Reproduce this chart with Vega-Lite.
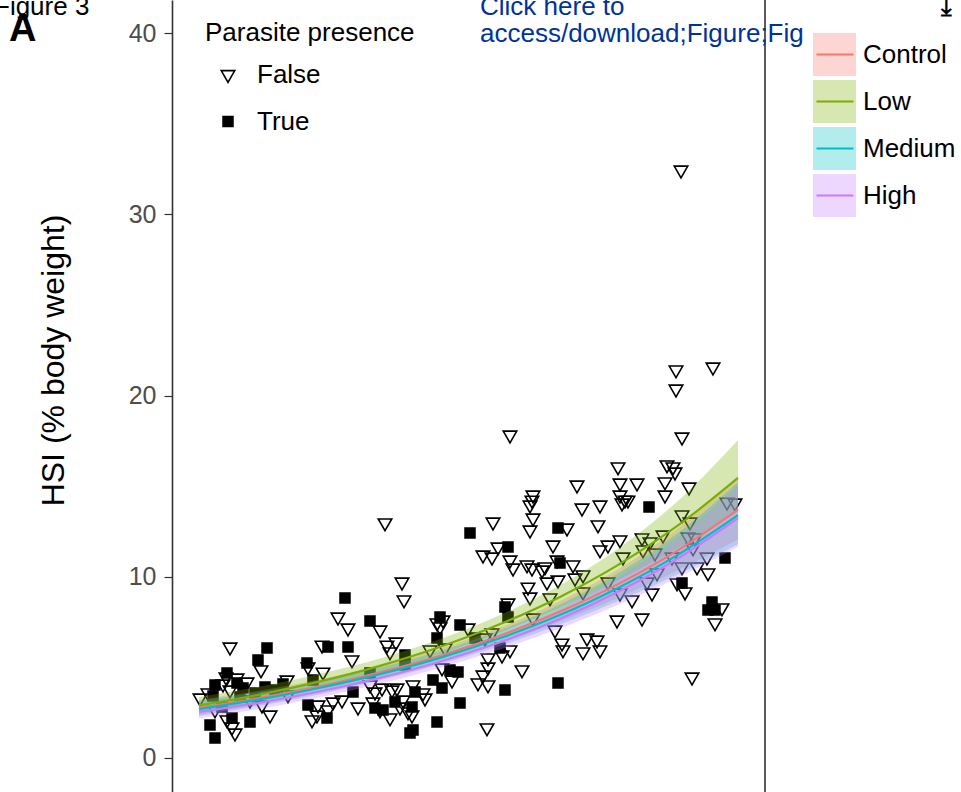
{
  "$schema": "https://vega.github.io/schema/vega-lite/v6.json",
  "width": 593,
  "height": 792,
  "autosize": {"type": "none"},
  "padding": {"left": 172, "right": 196, "top": 0, "bottom": 0},
  "background": "white",
  "config": {"view": {"stroke": null}, "font": "Liberation Sans"},
  "datasets": {
    "pts": [
      {"x":58,"hsi":6.12,"parasite":"False"},{"x":89,"hsi":4.86,"parasite":"False"},{"x":115,"hsi":4.30,"parasite":"False"},{"x":54,"hsi":4.47,"parasite":"False"},{"x":65,"hsi":4.41,"parasite":"False"},{"x":75,"hsi":4.19,"parasite":"False"},{"x":36,"hsi":3.59,"parasite":"False"},{"x":28,"hsi":3.31,"parasite":"False"},{"x":58,"hsi":3.75,"parasite":"False"},{"x":98,"hsi":2.37,"parasite":"False"},{"x":55,"hsi":2.10,"parasite":"False"},{"x":60,"hsi":1.71,"parasite":"False"},{"x":63,"hsi":1.38,"parasite":"False"},{"x":116,"hsi":3.48,"parasite":"False"},{"x":51,"hsi":4.08,"parasite":"False"},{"x":78,"hsi":3.20,"parasite":"False"},{"x":90,"hsi":2.92,"parasite":"False"},{"x":43,"hsi":2.65,"parasite":"False"},
      {"x":95,"hsi":6.07,"parasite":"True"},{"x":86,"hsi":5.41,"parasite":"True"},{"x":55,"hsi":4.69,"parasite":"True"},{"x":43,"hsi":4.03,"parasite":"True"},{"x":65,"hsi":4.14,"parasite":"True"},{"x":93,"hsi":3.92,"parasite":"True"},{"x":111,"hsi":4.08,"parasite":"True"},{"x":41,"hsi":3.42,"parasite":"True"},{"x":71,"hsi":3.86,"parasite":"True"},{"x":60,"hsi":2.21,"parasite":"True"},{"x":78,"hsi":1.99,"parasite":"True"},{"x":38,"hsi":1.82,"parasite":"True"},{"x":43,"hsi":1.10,"parasite":"True"},{"x":68,"hsi":3.37,"parasite":"True"},{"x":83,"hsi":3.59,"parasite":"True"},{"x":103,"hsi":3.75,"parasite":"True"},{"x":50,"hsi":2.81,"parasite":"True"},
      {"x":150,"hsi":6.23,"parasite":"False"},{"x":215,"hsi":6.23,"parasite":"False"},{"x":218,"hsi":5.85,"parasite":"False"},{"x":224,"hsi":6.40,"parasite":"False"},{"x":180,"hsi":5.41,"parasite":"False"},{"x":136,"hsi":5.02,"parasite":"False"},{"x":151,"hsi":4.74,"parasite":"False"},{"x":198,"hsi":4.03,"parasite":"False"},{"x":210,"hsi":3.86,"parasite":"False"},{"x":203,"hsi":3.64,"parasite":"False"},{"x":220,"hsi":3.75,"parasite":"False"},{"x":225,"hsi":3.86,"parasite":"False"},{"x":146,"hsi":2.92,"parasite":"False"},{"x":161,"hsi":3.09,"parasite":"False"},{"x":170,"hsi":3.20,"parasite":"False"},{"x":186,"hsi":2.81,"parasite":"False"},{"x":201,"hsi":3.09,"parasite":"False"},{"x":156,"hsi":2.65,"parasite":"False"},{"x":145,"hsi":2.37,"parasite":"False"},{"x":140,"hsi":2.10,"parasite":"False"},{"x":218,"hsi":2.21,"parasite":"False"},{"x":208,"hsi":2.65,"parasite":"False"},
      {"x":156,"hsi":6.12,"parasite":"True"},{"x":176,"hsi":6.12,"parasite":"True"},{"x":135,"hsi":5.24,"parasite":"True"},{"x":141,"hsi":4.30,"parasite":"True"},{"x":198,"hsi":4.69,"parasite":"True"},{"x":136,"hsi":2.92,"parasite":"True"},{"x":155,"hsi":2.21,"parasite":"True"},{"x":203,"hsi":2.76,"parasite":"True"},{"x":211,"hsi":2.65,"parasite":"True"},{"x":181,"hsi":3.64,"parasite":"True"},
      {"x":213,"hsi":12.97,"parasite":"False"},{"x":230,"hsi":9.71,"parasite":"False"},{"x":232,"hsi":8.72,"parasite":"False"},{"x":166,"hsi":7.78,"parasite":"False"},{"x":176,"hsi":7.17,"parasite":"False"},{"x":208,"hsi":7.06,"parasite":"False"},
      {"x":298,"hsi":12.41,"parasite":"True"},{"x":173,"hsi":8.83,"parasite":"True"},{"x":198,"hsi":7.56,"parasite":"True"},
      {"x":265,"hsi":7.45,"parasite":"False"},{"x":271,"hsi":7.61,"parasite":"False"},{"x":268,"hsi":7.23,"parasite":"False"},{"x":296,"hsi":7.17,"parasite":"False"},{"x":258,"hsi":5.96,"parasite":"False"},{"x":273,"hsi":6.07,"parasite":"False"},{"x":320,"hsi":6.90,"parasite":"False"},{"x":313,"hsi":6.62,"parasite":"False"},{"x":270,"hsi":4.97,"parasite":"False"},{"x":280,"hsi":4.30,"parasite":"False"},{"x":316,"hsi":5.52,"parasite":"False"},{"x":316,"hsi":5.02,"parasite":"False"},{"x":311,"hsi":4.58,"parasite":"False"},{"x":306,"hsi":4.14,"parasite":"False"},{"x":316,"hsi":4.03,"parasite":"False"},{"x":241,"hsi":4.03,"parasite":"False"},{"x":251,"hsi":3.59,"parasite":"False"},{"x":253,"hsi":3.31,"parasite":"False"},{"x":231,"hsi":3.20,"parasite":"False"},{"x":228,"hsi":2.81,"parasite":"False"},{"x":236,"hsi":2.54,"parasite":"False"},{"x":240,"hsi":2.37,"parasite":"False"},{"x":315,"hsi":1.66,"parasite":"False"},
      {"x":268,"hsi":7.78,"parasite":"True"},{"x":288,"hsi":7.34,"parasite":"True"},{"x":265,"hsi":6.62,"parasite":"True"},{"x":303,"hsi":6.62,"parasite":"True"},{"x":233,"hsi":5.68,"parasite":"True"},{"x":233,"hsi":5.13,"parasite":"True"},{"x":261,"hsi":4.30,"parasite":"True"},{"x":278,"hsi":4.86,"parasite":"True"},{"x":286,"hsi":4.74,"parasite":"True"},{"x":270,"hsi":3.86,"parasite":"True"},{"x":243,"hsi":3.64,"parasite":"True"},{"x":223,"hsi":3.09,"parasite":"True"},{"x":240,"hsi":2.81,"parasite":"True"},{"x":288,"hsi":3.03,"parasite":"True"},{"x":265,"hsi":1.99,"parasite":"True"},{"x":241,"hsi":1.54,"parasite":"True"},{"x":238,"hsi":1.38,"parasite":"True"},
      {"x":405,"hsi":15.06,"parasite":"False"},{"x":361,"hsi":14.51,"parasite":"False"},{"x":360,"hsi":14.23,"parasite":"False"},{"x":358,"hsi":13.96,"parasite":"False"},{"x":410,"hsi":13.79,"parasite":"False"},{"x":321,"hsi":13.02,"parasite":"False"},{"x":361,"hsi":13.24,"parasite":"False"},{"x":358,"hsi":12.58,"parasite":"False"},{"x":395,"hsi":12.69,"parasite":"False"},{"x":381,"hsi":11.75,"parasite":"False"},{"x":326,"hsi":11.64,"parasite":"False"},{"x":311,"hsi":11.20,"parasite":"False"},{"x":320,"hsi":11.09,"parasite":"False"},{"x":338,"hsi":10.92,"parasite":"False"},{"x":341,"hsi":10.48,"parasite":"False"},{"x":355,"hsi":10.65,"parasite":"False"},{"x":360,"hsi":10.48,"parasite":"False"},{"x":373,"hsi":10.54,"parasite":"False"},{"x":370,"hsi":10.37,"parasite":"False"},{"x":385,"hsi":10.92,"parasite":"False"},{"x":401,"hsi":10.65,"parasite":"False"},{"x":375,"hsi":9.71,"parasite":"False"},{"x":386,"hsi":9.82,"parasite":"False"},{"x":403,"hsi":9.93,"parasite":"False"},{"x":411,"hsi":10.10,"parasite":"False"},{"x":356,"hsi":9.43,"parasite":"False"},{"x":358,"hsi":8.88,"parasite":"False"},{"x":378,"hsi":8.83,"parasite":"False"},{"x":336,"hsi":8.55,"parasite":"False"},{"x":411,"hsi":9.16,"parasite":"False"},{"x":361,"hsi":7.72,"parasite":"False"},{"x":383,"hsi":7.06,"parasite":"False"},{"x":390,"hsi":6.34,"parasite":"False"},{"x":391,"hsi":5.96,"parasite":"False"},{"x":411,"hsi":5.85,"parasite":"False"},{"x":338,"hsi":5.96,"parasite":"False"},{"x":330,"hsi":5.68,"parasite":"False"},{"x":350,"hsi":4.86,"parasite":"False"},
      {"x":386,"hsi":12.69,"parasite":"True"},{"x":336,"hsi":11.64,"parasite":"True"},{"x":388,"hsi":10.76,"parasite":"True"},{"x":333,"hsi":8.33,"parasite":"True"},{"x":336,"hsi":7.78,"parasite":"True"},{"x":328,"hsi":6.07,"parasite":"True"},{"x":333,"hsi":3.75,"parasite":"True"},{"x":386,"hsi":4.14,"parasite":"True"},
      {"x":446,"hsi":16.06,"parasite":"False"},{"x":448,"hsi":15.17,"parasite":"False"},{"x":465,"hsi":15.17,"parasite":"False"},{"x":448,"hsi":14.51,"parasite":"False"},{"x":453,"hsi":14.23,"parasite":"False"},{"x":450,"hsi":14.07,"parasite":"False"},{"x":456,"hsi":14.23,"parasite":"False"},{"x":428,"hsi":13.96,"parasite":"False"},{"x":426,"hsi":12.86,"parasite":"False"},{"x":428,"hsi":11.48,"parasite":"False"},{"x":436,"hsi":11.75,"parasite":"False"},{"x":448,"hsi":12.03,"parasite":"False"},{"x":470,"hsi":12.14,"parasite":"False"},{"x":478,"hsi":11.92,"parasite":"False"},{"x":451,"hsi":11.09,"parasite":"False"},{"x":471,"hsi":11.48,"parasite":"False"},{"x":483,"hsi":11.31,"parasite":"False"},{"x":436,"hsi":9.71,"parasite":"False"},{"x":475,"hsi":9.71,"parasite":"False"},{"x":485,"hsi":10.21,"parasite":"False"},{"x":448,"hsi":9.10,"parasite":"False"},{"x":460,"hsi":8.72,"parasite":"False"},{"x":480,"hsi":9.10,"parasite":"False"},{"x":445,"hsi":7.61,"parasite":"False"},{"x":470,"hsi":7.72,"parasite":"False"},{"x":415,"hsi":6.62,"parasite":"False"},{"x":425,"hsi":6.51,"parasite":"False"},{"x":428,"hsi":5.96,"parasite":"False"},
      {"x":477,"hsi":13.85,"parasite":"True"},
      {"x":510,"hsi":17.71,"parasite":"False"},{"x":495,"hsi":16.17,"parasite":"False"},{"x":501,"hsi":16.06,"parasite":"False"},{"x":503,"hsi":15.78,"parasite":"False"},{"x":493,"hsi":15.23,"parasite":"False"},{"x":493,"hsi":14.51,"parasite":"False"},{"x":517,"hsi":14.95,"parasite":"False"},{"x":555,"hsi":14.12,"parasite":"False"},{"x":563,"hsi":14.07,"parasite":"False"},{"x":510,"hsi":13.41,"parasite":"False"},{"x":518,"hsi":13.02,"parasite":"False"},{"x":491,"hsi":12.30,"parasite":"False"},{"x":516,"hsi":12.19,"parasite":"False"},{"x":523,"hsi":12.14,"parasite":"False"},{"x":521,"hsi":11.59,"parasite":"False"},{"x":500,"hsi":11.09,"parasite":"False"},{"x":510,"hsi":10.54,"parasite":"False"},{"x":525,"hsi":10.54,"parasite":"False"},{"x":535,"hsi":11.09,"parasite":"False"},{"x":536,"hsi":10.21,"parasite":"False"},{"x":505,"hsi":9.66,"parasite":"False"},{"x":513,"hsi":9.16,"parasite":"False"},{"x":550,"hsi":8.28,"parasite":"False"},{"x":543,"hsi":7.45,"parasite":"False"},{"x":520,"hsi":4.47,"parasite":"False"},
      {"x":553,"hsi":11.03,"parasite":"True"},{"x":510,"hsi":9.66,"parasite":"True"},{"x":540,"hsi":8.61,"parasite":"True"},{"x":536,"hsi":8.17,"parasite":"True"},{"x":543,"hsi":8.17,"parasite":"True"},
      {"x":509,"hsi":32.44,"parasite":"False"},{"x":504,"hsi":21.41,"parasite":"False"},{"x":504,"hsi":20.36,"parasite":"False"},{"x":541,"hsi":21.57,"parasite":"False"},{"x":338,"hsi":17.82,"parasite":"False"}
    ],
    "fit": [
      {"x":27,"group":"Control","fit":2.76,"lo":2.38,"hi":3.21},{"x":87,"group":"Control","fit":3.30,"lo":2.93,"hi":3.71},{"x":147,"group":"Control","fit":3.94,"lo":3.59,"hi":4.33},{"x":207,"group":"Control","fit":4.71,"lo":4.36,"hi":5.09},{"x":267,"group":"Control","fit":5.63,"lo":5.26,"hi":6.02},{"x":327,"group":"Control","fit":6.73,"lo":6.31,"hi":7.18},{"x":387,"group":"Control","fit":8.05,"lo":7.51,"hi":8.63},{"x":447,"group":"Control","fit":9.62,"lo":8.86,"hi":10.44},{"x":507,"group":"Control","fit":11.50,"lo":10.39,"hi":12.73},{"x":566,"group":"Control","fit":13.70,"lo":12.06,"hi":15.56},
      {"x":27,"group":"Low","fit":2.90,"lo":2.50,"hi":3.37},{"x":87,"group":"Low","fit":3.49,"lo":3.10,"hi":3.93},{"x":147,"group":"Low","fit":4.21,"lo":3.83,"hi":4.63},{"x":207,"group":"Low","fit":5.07,"lo":4.69,"hi":5.48},{"x":267,"group":"Low","fit":6.11,"lo":5.71,"hi":6.54},{"x":327,"group":"Low","fit":7.36,"lo":6.90,"hi":7.86},{"x":387,"group":"Low","fit":8.86,"lo":8.26,"hi":9.50},{"x":447,"group":"Low","fit":10.68,"lo":9.84,"hi":11.59},{"x":507,"group":"Low","fit":12.87,"lo":11.63,"hi":14.24},{"x":566,"group":"Low","fit":15.45,"lo":13.60,"hi":17.55},
      {"x":27,"group":"Medium","fit":2.70,"lo":2.32,"hi":3.14},{"x":87,"group":"Medium","fit":3.23,"lo":2.87,"hi":3.64},{"x":147,"group":"Medium","fit":3.86,"lo":3.51,"hi":4.24},{"x":207,"group":"Medium","fit":4.61,"lo":4.27,"hi":4.98},{"x":267,"group":"Medium","fit":5.51,"lo":5.15,"hi":5.89},{"x":327,"group":"Medium","fit":6.59,"lo":6.17,"hi":7.03},{"x":387,"group":"Medium","fit":7.87,"lo":7.34,"hi":8.44},{"x":447,"group":"Medium","fit":9.41,"lo":8.67,"hi":10.22},{"x":507,"group":"Medium","fit":11.25,"lo":10.16,"hi":12.45},{"x":566,"group":"Medium","fit":13.40,"lo":11.79,"hi":15.22},
      {"x":27,"group":"High","fit":2.54,"lo":2.19,"hi":2.95},{"x":87,"group":"High","fit":3.05,"lo":2.71,"hi":3.43},{"x":147,"group":"High","fit":3.67,"lo":3.34,"hi":4.03},{"x":207,"group":"High","fit":4.41,"lo":4.08,"hi":4.76},{"x":267,"group":"High","fit":5.30,"lo":4.95,"hi":5.67},{"x":327,"group":"High","fit":6.37,"lo":5.97,"hi":6.80},{"x":387,"group":"High","fit":7.65,"lo":7.13,"hi":8.20},{"x":447,"group":"High","fit":9.20,"lo":8.47,"hi":9.99},{"x":507,"group":"High","fit":11.05,"lo":9.98,"hi":12.23},{"x":566,"group":"High","fit":13.24,"lo":11.65,"hi":15.04}
    ]
  },
  "layer": [
    {
      "data": {"name": "pts"},
      "mark": {"type": "point", "filled": true, "size": 225, "stroke": "black", "strokeWidth": 1.6, "opacity": 1},
      "encoding": {
        "x": {"field": "x", "type": "quantitative", "scale": {"domain": [0, 593], "nice": false, "zero": false}, "axis": null},
        "y": {"field": "hsi", "type": "quantitative", "title": "HSI (% body weight)",
              "scale": {"domain": [-1.876, 41.821], "nice": false, "zero": false},
              "axis": {"values": [0, 10, 20, 30, 40], "grid": false, "title": "HSI (% body weight)",
                       "titleFont": "Liberation Sans", "titleFontSize": 32, "titleFontWeight": "normal", "titleColor": "black",
                       "titleX": -109, "titleY": 360, "titleAngle": 270, "titleAlign": "center", "titleBaseline": "alphabetic",
                       "labelFont": "Liberation Sans", "labelFontSize": 25, "labelColor": "#4D4D4D", "labelPadding": 8,
                       "tickSize": 8, "tickColor": "#333333", "tickWidth": 1.2, "domainColor": "#333333", "domainWidth": 1.6}},
        "shape": {"field": "parasite", "type": "nominal",
                  "scale": {"domain": ["False", "True"], "range": ["M-0.9,-0.52L0.9,-0.52L0,1.04Z", "M-0.66,-0.66L0.66,-0.66L0.66,0.66L-0.66,0.66Z"]},
                  "legend": {"orient": "none", "legendX": 33, "legendY": 20, "title": "Parasite presence", "padding": 0, "titleLimit": 500,
                             "titleFont": "Liberation Sans", "titleFontSize": 26, "titleFontWeight": "normal", "titleColor": "black", "titlePadding": 5,
                             "labelFont": "Liberation Sans", "labelFontSize": 26, "labelColor": "black", "labelOffset": 16, "symbolOffset": 10,
                             "clipHeight": 47, "rowPadding": 0, "symbolSize": 225, "symbolStrokeWidth": 1.6,
                             "encode": {"symbols": {"stroke": {"value": "#000000"}, "strokeWidth": {"value": 1.6}, "strokeOpacity": {"value": 1}}}}},
        "fill": {"field": "parasite", "type": "nominal",
                 "scale": {"domain": ["False", "True"], "range": ["rgba(255,255,255,0)", "black"]},
                 "legend": {"orient": "none", "legendX": 33, "legendY": 20, "title": "Parasite presence", "padding": 0, "titleLimit": 500,
                            "titleFont": "Liberation Sans", "titleFontSize": 26, "titleFontWeight": "normal", "titleColor": "black", "titlePadding": 5,
                            "labelFont": "Liberation Sans", "labelFontSize": 26, "labelColor": "black", "labelOffset": 16, "symbolOffset": 10,
                            "clipHeight": 47, "rowPadding": 0, "symbolSize": 225, "symbolStrokeWidth": 1.6,
                            "encode": {"symbols": {"stroke": {"value": "#000000"}, "strokeWidth": {"value": 1.6}, "strokeOpacity": {"value": 1}}}}}
      }
    },
    {
      "data": {"name": "fit"},
      "mark": {"type": "area", "opacity": 0.3, "interpolate": "monotone"},
      "encoding": {
        "x": {"field": "x", "type": "quantitative"},
        "y": {"field": "lo", "type": "quantitative", "title": "HSI (% body weight)"},
        "y2": {"field": "hi"},
        "fill": {"field": "group", "type": "nominal",
                 "scale": {"domain": ["Control", "Low", "Medium", "High"], "range": ["#F8766D", "#7CAE00", "#00BFC4", "#C77CFF"]},
                 "legend": {"orient": "none", "legendX": 641, "legendY": 31.25, "title": null, "padding": 0,
                            "symbolType": "square", "symbolSize": 1849, "symbolStrokeWidth": 0, "symbolOpacity": 0.3,
                            "labelFont": "Liberation Sans", "labelFontSize": 26, "labelColor": "black", "labelOffset": 7,
                            "clipHeight": 46.5, "rowPadding": 0}}
      }
    },
    {
      "data": {"name": "fit"},
      "mark": {"type": "line", "strokeWidth": 2.2, "interpolate": "monotone"},
      "encoding": {
        "x": {"field": "x", "type": "quantitative"},
        "y": {"field": "fit", "type": "quantitative", "title": "HSI (% body weight)"},
        "stroke": {"field": "group", "type": "nominal",
                   "scale": {"domain": ["Control", "Low", "Medium", "High"], "range": ["#F8766D", "#7CAE00", "#00BFC4", "#C77CFF"]},
                   "legend": {"orient": "none", "legendX": 641, "legendY": 31.25, "title": null, "padding": 0,
                              "symbolType": "stroke", "symbolSize": 1369, "symbolStrokeWidth": 2.2, "symbolOffset": 2,
                              "labelFont": "Liberation Sans", "labelFontSize": 26, "labelColor": "transparent", "labelOffset": 7,
                              "clipHeight": 46.5, "rowPadding": 0}}
      }
    },
    {
      "data": {"values": [{}]},
      "mark": {"type": "rule", "color": "#333333", "strokeWidth": 1.6},
      "encoding": {"x": {"datum": 593}}
    },
    {
      "data": {"values": [{}]},
      "mark": {"type": "text", "text": "Figure 3", "align": "left", "baseline": "alphabetic", "fontSize": 26, "font": "Liberation Sans", "color": "black"},
      "encoding": {"x": {"datum": -178}, "y": {"datum": 40.99}}
    },
    {
      "data": {"values": [{}]},
      "mark": {"type": "text", "text": "A", "align": "left", "baseline": "alphabetic", "fontSize": 38, "fontWeight": "bold", "font": "Liberation Sans", "color": "black"},
      "encoding": {"x": {"datum": -163}, "y": {"datum": 39.56}}
    },
    {
      "data": {"values": [{}]},
      "mark": {"type": "text", "text": ["Click here to", "access/download;Figure;Fig"], "lineHeight": 27, "align": "left", "baseline": "alphabetic", "fontSize": 26, "font": "Liberation Sans", "color": "#003399"},
      "encoding": {"x": {"datum": 308}, "y": {"datum": 40.99}}
    },
    {
      "data": {"values": [{}]},
      "mark": {"type": "text", "text": "⤓", "align": "center", "baseline": "alphabetic", "fontSize": 24, "font": "DejaVu Sans", "fontWeight": "bold", "color": "black"},
      "encoding": {"x": {"datum": 774.5}, "y": {"datum": 40.99}}
    }
  ],
  "resolve": {"scale": {"fill": "independent", "shape": "independent"}}
}
